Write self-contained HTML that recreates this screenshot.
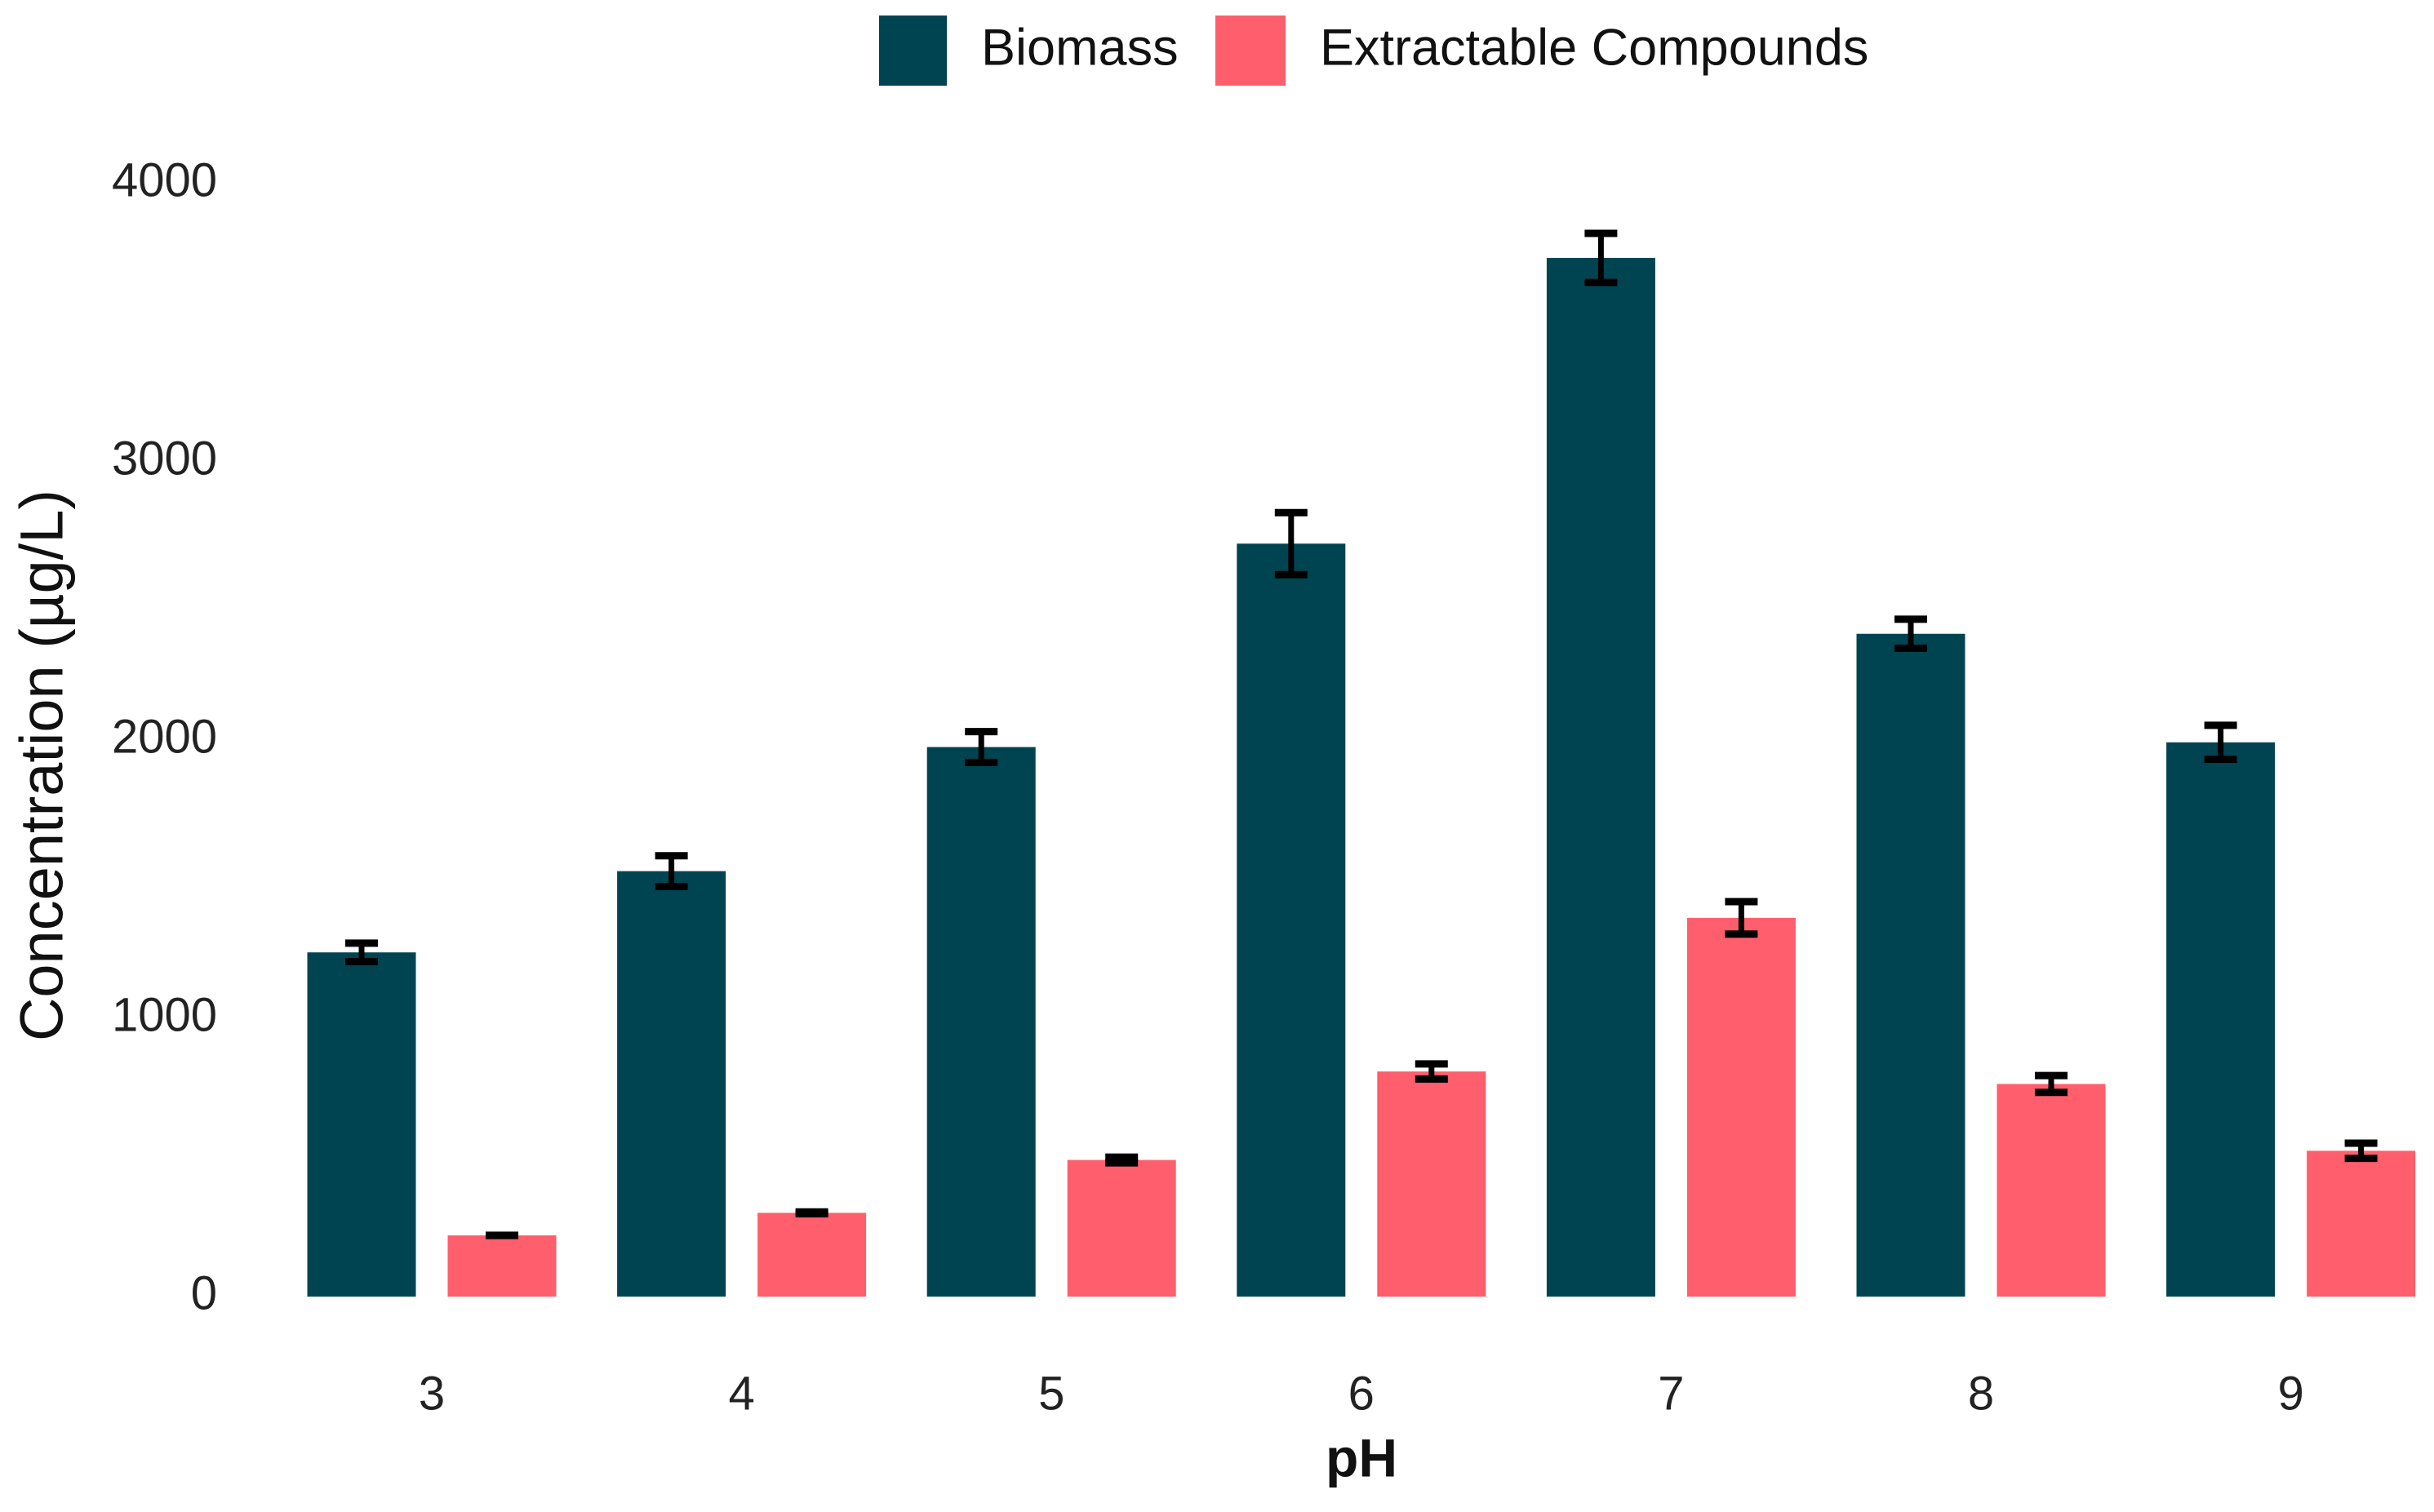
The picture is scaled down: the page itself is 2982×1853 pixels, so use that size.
<!DOCTYPE html>
<html><head><meta charset="utf-8"><style>
body{margin:0;background:#fff;}
svg text{font-family:"Liberation Sans",sans-serif;}
</style></head><body>
<svg id="chart" width="2982" height="1848" viewBox="0 0 2982 1848" xmlns="http://www.w3.org/2000/svg">
<rect width="2982" height="1848" fill="#fff"/>
<g>
<rect x="1077" y="19" width="83" height="86" fill="#004451"/>
<text x="1202" y="63" font-size="63" dominant-baseline="middle" fill="#111">Biomass</text>
<rect x="1489" y="19" width="86" height="86" fill="#ff5e6c"/>
<text x="1617" y="63" font-size="63" dominant-baseline="middle" fill="#111">Extractable Compounds</text>
</g>
<g id="yticks"></g>
<g id="xticks"></g>
<g id="bars"></g>
<text transform="translate(57,938) rotate(-90)" text-anchor="middle" dominant-baseline="middle" font-size="74" fill="#111">Concentration (µg/L)</text>
<text x="1668" y="1792" text-anchor="middle" dominant-baseline="middle" font-size="66" font-weight="bold" fill="#111">pH</text>
</svg>
<script>
const categories = ["3","4","5","6","7","8","9"];
const biomass = [1237, 1529, 1975, 2706, 3733, 2382, 1992];
const biomassErr = [45, 67, 67, 123, 100, 64, 73];
const extractable = [220, 301, 491, 809, 1361, 764, 524];
const extractableErr = [12, 15, 22, 39, 70, 42, 39];
const yTicks = [0, 1000, 2000, 3000, 4000];

const NS = "http://www.w3.org/2000/svg";
const y0 = 1589, pxPer = 341/1000;
function yScale(v){ return y0 - v*pxPer; }
function xScale(i){ return 529 + i*379.6; }
const barW = 133, off = 86;
function mk(tag, attrs, parent){ const e=document.createElementNS(NS,tag); for(const k in attrs) e.setAttribute(k,attrs[k]); parent.appendChild(e); return e; }

const yg = document.getElementById('yticks');
yTicks.forEach(t=>{
  const el = mk('text',{x:266,y:yScale(t),'text-anchor':'end','dominant-baseline':'middle','font-size':58,fill:'#222'},yg);
  
  
  el.textContent = t;
});
const xg = document.getElementById('xticks');
categories.forEach((c,i)=>{
  const el = mk('text',{x:xScale(i),y:1712,'text-anchor':'middle','dominant-baseline':'middle','font-size':58,fill:'#222'},xg);
  
  
  el.textContent = c;
});
const bg = document.getElementById('bars');
function bar(cx, v, err, color, name){
  const r = mk('rect',{x:cx-barW/2,y:yScale(v),width:barW,height:y0-yScale(v),fill:color},bg);
  
  
  const g = mk('g',{stroke:'#000',fill:'none'},bg);
  
  
  const t = yScale(v+err), b = yScale(v-err);
  mk('line',{x1:cx,x2:cx,y1:t,y2:b,'stroke-width':7},g);
  mk('line',{x1:cx-20,x2:cx+20,y1:t+4,y2:t+4,'stroke-width':9},g);
  mk('line',{x1:cx-20,x2:cx+20,y1:b-4,y2:b-4,'stroke-width':9},g);
}
categories.forEach((c,i)=>{
  bar(xScale(i)-off, biomass[i], biomassErr[i], '#004451', 'bar-biomass-ph'+c);
  bar(xScale(i)+off, extractable[i], extractableErr[i], '#ff5e6c', 'bar-extractable-ph'+c);
});
</script>
</body></html>
